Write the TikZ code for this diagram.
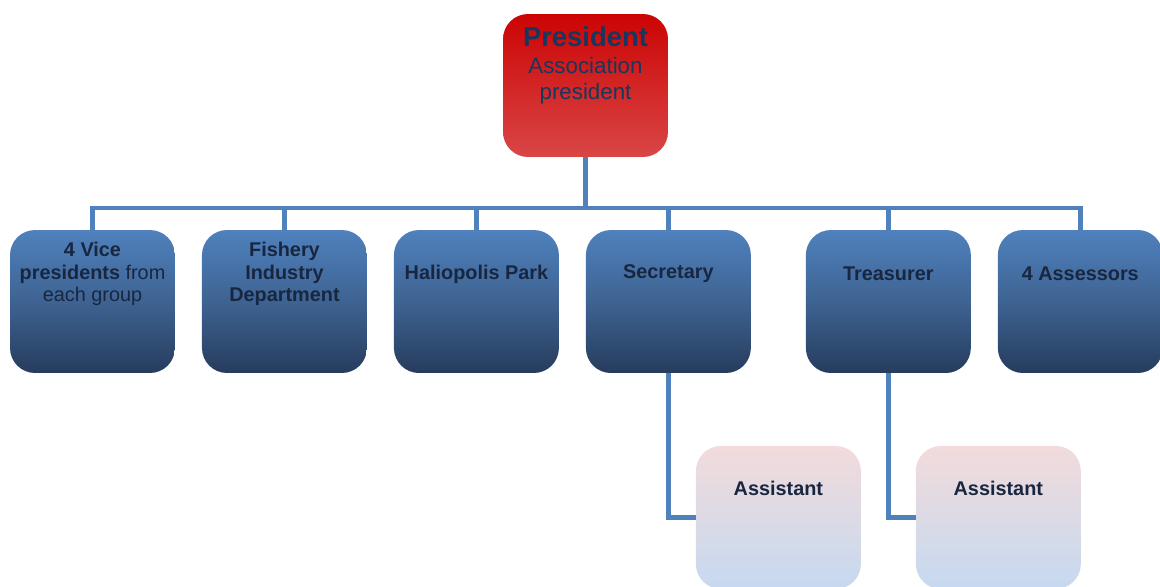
\documentclass[tikz,border=0pt]{standalone}
\usepackage{fontspec}
\setmainfont{Liberation Sans}
\usetikzlibrary{positioning, calc}

\definecolor{linkblue}{RGB}{79,129,189}
\definecolor{navytext}{RGB}{24,38,64}
\definecolor{prestext}{RGB}{23,55,94}
\definecolor{unittop}{RGB}{79,129,189}
\definecolor{unitmid}{RGB}{62,99,146}
\definecolor{unitbot}{RGB}{38,60,93}

\pgfdeclareverticalshading{unitshade}{100bp}{
  color(0bp)=(unitbot); color(25bp)=(unitbot); color(50bp)=(unitmid); color(75bp)=(unittop); color(100bp)=(unittop)}

\begin{document}
\begin{tikzpicture}[
  x=0.02cm, y=-0.02cm,
  link/.style  = {draw=linkblue, line width=2.8pt},
  box/.style   = {rounded corners=0.5cm, minimum width=3.3cm, minimum height=2.86cm, outer sep=0pt},
  chief/.style = {box, top color={rgb,255:red,204;green,4;blue,4}, bottom color={rgb,255:red,217;green,70;blue,70}},
  unit/.style  = {box, shading=unitshade},
  helper/.style= {box, top color={rgb,255:red,242;green,219;blue,219}, bottom color={rgb,255:red,198;green,217;blue,240}},
  lbl/.style   = {align=center, text=navytext, inner sep=0pt,
                  font=\fontsize{11.3}{13}\selectfont},
]
  \clip (0,0) rectangle (1160,586);

  % president on top
  \node[chief] (pres) at (585.5,85.5) {};

  % second row, left to right
  \node[unit]                     (vp)    at (92.5,301.5) {};
  \node[unit, right=0.54cm of vp]   (fish)  {};
  \node[unit, right=0.54cm of fish] (park)  {};
  \node[unit, right=0.54cm of park] (sec)   {};
  \node[unit, right=1.1cm of sec]   (tre)   {};
  \node[unit, right=0.54cm of tre]  (as)    {};

  % assistants under secretary and treasurer
  \node[helper, below right=1.46cm and -1.1cm of sec] (asst1) {};
  \node[helper, below right=1.46cm and -1.1cm of tre] (asst2) {};

  % texts
  \node[lbl, text=prestext, font=\fontsize{12.7}{14.7}\selectfont] (pres-t) at ([yshift=-1.02cm]pres.north)
    {{\fontsize{15.6}{17}\selectfont\bfseries President}\\[0.7pt]
     Association\\ president};
  \node[lbl] (vp-t)    at ([yshift=-0.88cm]vp.north)    {\bfseries 4 Vice\\ \textbf{presidents} from\\ each group};
  \node[lbl] (fish-t)  at ([yshift=-0.88cm]fish.north)  {\bfseries Fishery\\ \bfseries Industry\\ \bfseries Department};
  \node[lbl] (park-t)  at ([yshift=-0.88cm]park.north)  {\bfseries Haliopolis Park};
  \node[lbl] (sec-t)   at ([yshift=-0.88cm]sec.north)   {\bfseries Secretary};
  \node[lbl] (tre-t)   at ([yshift=-0.88cm]tre.north)   {\bfseries Treasurer};
  \node[lbl] (as-t)    at ([yshift=-0.88cm]as.north)    {\bfseries 4 Assessors};
  \node[lbl] (asst1-t) at ([yshift=-0.84cm]asst1.north) {\bfseries Assistant};
  \node[lbl] (asst2-t) at ([yshift=-0.84cm]asst2.north) {\bfseries Assistant};

  % bus line between president and second row
  \coordinate (bus) at ([yshift=0.44cm]sec.north);
  \draw[link] (pres.south) -- (pres.south |- bus);
  \draw[link] (vp.north) |- (bus) -| (as.north);
  \foreach \n in {fish, park, sec, tre}
    \draw[link] (\n.north) -- (\n.north |- bus);

  % assistants hang off the left side
  \draw[link] (sec.south) |- (asst1.west);
  \draw[link] (tre.south) |- (asst2.west);
\end{tikzpicture}
\end{document}
